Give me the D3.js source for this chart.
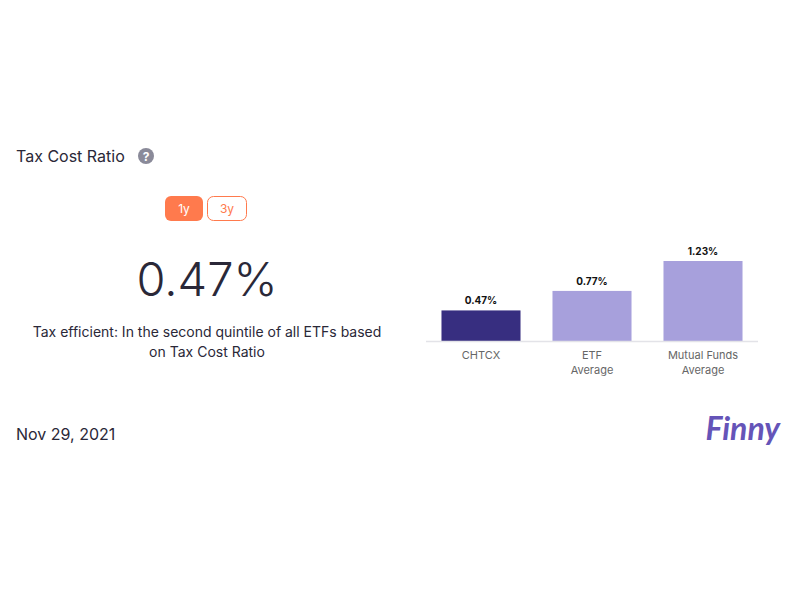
<!DOCTYPE html>
<html><head><meta charset="utf-8">
<script src="https://cdn.jsdelivr.net/npm/d3@7"></script>
<style>body{margin:0;background:#fff;font-family:Inter,"Noto Sans",sans-serif}</style>
</head><body>
<svg id="c" width="800" height="600"></svg>
<script>
const categories = ["CHTCX", "ETF|Average", "Mutual Funds|Average"];
const values = [0.47, 0.77, 1.23];
const valueLabels = ["0.47%", "0.77%", "1.23%"];
const colors = ["#372e80", "#a7a0dc", "#a7a0dc"];

const svg = d3.select("#c");
const txt = "#2a2838";
svg.append("text").attr("x",16).attr("y",162).attr("font-size",16).attr("fill",txt).text("Tax Cost Ratio");
svg.append("circle").attr("cx",146).attr("cy",156).attr("r",8).attr("fill","#8a8a99");
svg.append("text").attr("x",146).attr("y",161).attr("text-anchor","middle").attr("font-size",12).attr("font-weight","bold").attr("fill","#fff").text("?");

svg.append("rect").attr("x",165).attr("y",196).attr("width",38).attr("height",25).attr("rx",6).attr("fill","#ff7a4d");
svg.append("text").attr("x",184).attr("y",213).attr("text-anchor","middle").attr("font-size",12).attr("fill","#fff").text("1y");
svg.append("rect").attr("x",207.5).attr("y",196.5).attr("width",39).attr("height",24).attr("rx",6).attr("fill","#fff").attr("stroke","#ff7a4d");
svg.append("text").attr("x",227).attr("y",213).attr("text-anchor","middle").attr("font-size",12).attr("fill","#ff7a4d").text("3y");

svg.append("text").attr("x",207).attr("y",296).attr("text-anchor","middle").attr("font-size",47).attr("font-weight",300).attr("fill",txt).text("0.47%");
svg.append("text").attr("x",207).attr("y",337).attr("text-anchor","middle").attr("font-size",14).attr("fill",txt).text("Tax efficient: In the second quintile of all ETFs based");
svg.append("text").attr("x",207).attr("y",357).attr("text-anchor","middle").attr("font-size",14).attr("fill",txt).text("on Tax Cost Ratio");

svg.append("text").attr("x",16).attr("y",440).attr("font-size",16).attr("fill",txt).text("Nov 29, 2021");
svg.append("text").attr("x",780).attr("y",440).attr("text-anchor","end").attr("font-size",32).attr("font-weight","bold").attr("font-style","italic").attr("font-family","Lato").attr("fill","#6554b8").text("Finny");

const x = d3.scaleBand().domain(categories).range([425.5,758.5]).paddingInner(0.288).paddingOuter(0.144);
const y = d3.scaleLinear().domain([0,1.23]).range([341,261]);
const g = svg.append("g");
g.selectAll("rect.bar").data(values).join("rect").attr("class","bar")
 .attr("x",(d,i)=>x(categories[i])).attr("width",x.bandwidth())
 .attr("y",d=>y(d)).attr("height",d=>y(0)-y(d)).attr("fill",(d,i)=>colors[i]);
g.selectAll("text.v").data(values).join("text").attr("class","v")
 .attr("x",(d,i)=>x(categories[i])+x.bandwidth()/2).attr("y",d=>y(d)-6)
 .attr("text-anchor","middle").attr("font-size",10).attr("font-weight","bold").attr("fill","#111")
 .text((d,i)=>valueLabels[i]);
g.append("line").attr("x1",426).attr("x2",758).attr("y1",341.5).attr("y2",341.5).attr("stroke","#e3e3e8").attr("stroke-width",1.5);
categories.forEach(c=>{
  const t = g.append("text").attr("text-anchor","middle").attr("font-size",11).attr("fill","#666");
  c.split("|").forEach((l,j)=>t.append("tspan").attr("x",x(c)+x.bandwidth()/2).attr("y",359+j*15).text(l));
});
</script></body></html>
